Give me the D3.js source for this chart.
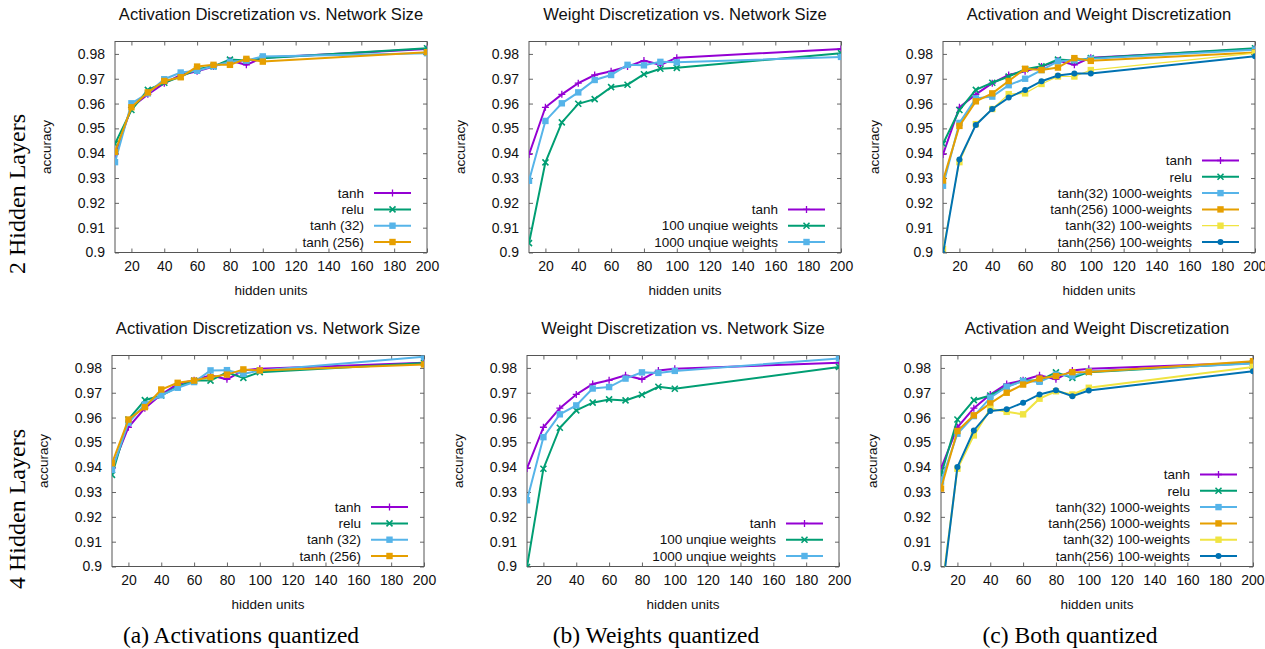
<!DOCTYPE html>
<html>
<head>
<meta charset="utf-8">
<script src="https://cdn.jsdelivr.net/npm/d3@7"></script>
<style>
  body { margin: 0; background: #fff; }
  svg { display: block; }
  .tick text { font-family: 'Liberation Sans', Arial, sans-serif; }
</style>
</head>
<body>
<div id="chart"></div>
<script>
// ---- data ---------------------------------------------------------------
const hidden = [10, 20, 30, 40, 50, 60, 70, 80, 90, 100, 200];
const xTicks = [20, 40, 60, 80, 100, 120, 140, 160, 180, 200];
const yTicks = [0.9, 0.91, 0.92, 0.93, 0.94, 0.95, 0.96, 0.97, 0.98];

// 2 hidden layers
const tanh2        = [0.9395, 0.9585, 0.9637, 0.9682, 0.9715, 0.9730, 0.9749, 0.9773, 0.9756, 0.9785, 0.9820];
const relu2        = [0.9438, 0.9574, 0.9655, 0.9684, 0.9709, 0.9738, 0.9750, 0.9777, 0.9773, 0.9783, 0.9823];
const tanh32_2     = [0.9364, 0.9601, 0.9641, 0.9698, 0.9725, 0.9732, 0.9750, 0.9768, 0.9773, 0.9790, 0.9803];
const tanh256_2    = [0.9405, 0.9585, 0.9645, 0.9691, 0.9706, 0.9749, 0.9756, 0.9756, 0.9780, 0.9769, 0.9807];
const w100_2       = [0.9038, 0.9363, 0.9524, 0.9599, 0.9618, 0.9666, 0.9676, 0.9718, 0.9740, 0.9744, 0.9803];
const w1000_2      = [0.9289, 0.9530, 0.9601, 0.9645, 0.9695, 0.9715, 0.9756, 0.9754, 0.9768, 0.9766, 0.9788];
const t32w1000_2   = [0.9269, 0.9522, 0.9621, 0.9628, 0.9674, 0.9700, 0.9735, 0.9770, 0.9775, 0.9780, 0.9817];
const t256w1000_2  = [0.9290, 0.9510, 0.9609, 0.9641, 0.9691, 0.9740, 0.9735, 0.9745, 0.9783, 0.9772, 0.9806];
const t32w100_2    = [0.9014, 0.9364, 0.9517, 0.9578, 0.9638, 0.9641, 0.9679, 0.9709, 0.9709, 0.9735, 0.9803];
const t256w100_2   = [0.8995, 0.9375, 0.9514, 0.9578, 0.9624, 0.9655, 0.9690, 0.9713, 0.9721, 0.9721, 0.9791];

// 4 hidden layers
const tanh4        = [0.9395, 0.9561, 0.9638, 0.9693, 0.9735, 0.9750, 0.9770, 0.9754, 0.9790, 0.9797, 0.9821];
const relu4        = [0.9369, 0.9592, 0.9670, 0.9689, 0.9724, 0.9749, 0.9749, 0.9782, 0.9760, 0.9783, 0.9820];
const tanh32_4     = [0.9389, 0.9579, 0.9653, 0.9690, 0.9720, 0.9743, 0.9790, 0.9791, 0.9776, 0.9790, 0.9845];
const tanh256_4    = [0.9416, 0.9592, 0.9642, 0.9713, 0.9740, 0.9749, 0.9763, 0.9773, 0.9794, 0.9790, 0.9814];
const w100_4       = [0.8998, 0.9394, 0.9559, 0.9629, 0.9660, 0.9673, 0.9669, 0.9692, 0.9724, 0.9716, 0.9804];
const w1000_4      = [0.9267, 0.9521, 0.9613, 0.9649, 0.9717, 0.9723, 0.9757, 0.9782, 0.9780, 0.9788, 0.9838];
const t32w1000_4   = [0.9342, 0.9535, 0.9606, 0.9680, 0.9724, 0.9747, 0.9744, 0.9773, 0.9767, 0.9787, 0.9818];
const t256w1000_4  = [0.9314, 0.9546, 0.9609, 0.9657, 0.9700, 0.9733, 0.9757, 0.9767, 0.9783, 0.9784, 0.9827];
const t32w100_4    = [0.8880, 0.9394, 0.9528, 0.9635, 0.9623, 0.9613, 0.9676, 0.9706, 0.9693, 0.9720, 0.9804];
const t256w100_4   = [0.8860, 0.9401, 0.9548, 0.9626, 0.9633, 0.9660, 0.9693, 0.9710, 0.9686, 0.9709, 0.9787];

const titles = ['Activation Discretization vs. Network Size', 'Weight Discretization vs. Network Size', 'Activation and Weight Discretization'];
const rowLabels = ['2 Hidden Layers', '4 Hidden Layers'];
const captions = ['(a) Activations quantized', '(b) Weights quantized', '(c) Both quantized'];

// ---- styles ----------------------------------------------------------------
const C = { purple: '#9400d3', green: '#009e73', sky: '#56b4e9', orange: '#e69f00', yellow: '#f0e442', blue: '#0072b2' };

const panelSeries = (t, r, t32, t256, w100, w1000, a1000, b1000, a100, b100, thinYellow) => [
  [
    { name: 'tanh', vals: t, color: C.purple, mark: 'plus' },
    { name: 'relu', vals: r, color: C.green, mark: 'cross' },
    { name: 'tanh (32)', vals: t32, color: C.sky, mark: 'square' },
    { name: 'tanh (256)', vals: t256, color: C.orange, mark: 'square' }
  ],
  [
    { name: 'tanh', vals: t, color: C.purple, mark: 'plus' },
    { name: '100 unqiue weights', vals: w100, color: C.green, mark: 'cross' },
    { name: '1000 unqiue weights', vals: w1000, color: C.sky, mark: 'square' }
  ],
  [
    { name: 'tanh', vals: t, color: C.purple, mark: 'plus' },
    { name: 'relu', vals: r, color: C.green, mark: 'cross' },
    { name: 'tanh(32) 1000-weights', vals: a1000, color: C.sky, mark: 'square' },
    { name: 'tanh(256) 1000-weights', vals: b1000, color: C.orange, mark: 'square' },
    { name: 'tanh(32) 100-weights', vals: a100, color: C.yellow, mark: 'square', width: thinYellow ? 1.2 : 2 },
    { name: 'tanh(256) 100-weights', vals: b100, color: C.blue, mark: 'circle' }
  ]
];

const rows = [
  { top: 41.5, lefts: [115, 529, 943], label: rowLabels[0], labelY: 194,
    series: panelSeries(tanh2, relu2, tanh32_2, tanh256_2, w100_2, w1000_2, t32w1000_2, t256w1000_2, t32w100_2, t256w100_2, true) },
  { top: 355.5, lefts: [112, 527, 941], label: rowLabels[1], labelY: 509,
    series: panelSeries(tanh4, relu4, tanh32_4, tanh256_4, w100_4, w1000_4, t32w1000_4, t256w1000_4, t32w100_4, t256w100_4, false) }
];

const width = 1265, height = 649;
const pw = 312, ph = 211;
const sans = "'Liberation Sans', Arial, sans-serif";
const serif = "'Liberation Serif', 'Times New Roman', serif";

const svg = d3.select('#chart').append('svg')
  .attr('width', width)
  .attr('height', height);

const marker = (g, type, color, x, y) => {
  if (type === 'plus') {
    g.append('path').attr('d', `M${x - 3.5},${y}h7M${x},${y - 3.5}v7`)
      .attr('stroke', color).attr('stroke-width', 1.3).attr('fill', 'none');
  } else if (type === 'cross') {
    g.append('path').attr('d', `M${x - 3},${y - 3}l6,6M${x - 3},${y + 3}l6,-6`)
      .attr('stroke', color).attr('stroke-width', 1.6).attr('fill', 'none');
  } else if (type === 'square') {
    g.append('rect').attr('x', x - 3.2).attr('y', y - 3.2).attr('width', 6.4).attr('height', 6.4)
      .attr('fill', color);
  } else {
    g.append('circle').attr('cx', x).attr('cy', y).attr('r', 3).attr('fill', color);
  }
};

rows.forEach((row, ri) => {
  const top = row.top, bottom = row.top + ph;
  // 行ラベル
  svg.append('text')
    .attr('transform', `translate(25,${row.labelY}) rotate(-90)`)
    .attr('text-anchor', 'middle')
    .attr('font-family', serif)
    .attr('font-size', '24px')
    .text(row.label);

  row.lefts.forEach((left, ci) => {
    const right = left + pw;
    const x = d3.scaleLinear().domain([10, 200]).range([left, right]);
    const y = d3.scaleLinear().domain([0.9, 0.985]).range([bottom, top]);
    const g = svg.append('g');
    const clipId = `clip-${ri}-${ci}`;
    svg.append('defs').append('clipPath').attr('id', clipId)
      .append('rect').attr('x', left).attr('y', top).attr('width', pw).attr('height', ph);

    // タイトル
    g.append('text')
      .attr('x', (left + right) / 2).attr('y', top - 22)
      .attr('text-anchor', 'middle')
      .attr('font-family', sans).attr('font-size', '16.6px')
      .attr('fill', '#111')
      .text(titles[ci]);

    // 軸
    const fmt = d => String(+d.toFixed(2));
    const gx = g.append('g').attr('transform', `translate(0,${bottom})`)
      .call(d3.axisBottom(x).tickValues(xTicks).tickSizeInner(-4).tickSizeOuter(0).tickPadding(9));
    const gxt = g.append('g').attr('transform', `translate(0,${top})`)
      .call(d3.axisTop(x).tickValues(xTicks).tickSizeInner(-4).tickSizeOuter(0).tickFormat(''));
    const gy = g.append('g').attr('transform', `translate(${left},0)`)
      .call(d3.axisLeft(y).tickValues(yTicks).tickSizeInner(-4).tickSizeOuter(0).tickPadding(10).tickFormat(fmt));
    const gyr = g.append('g').attr('transform', `translate(${right},0)`)
      .call(d3.axisRight(y).tickValues(yTicks).tickSizeInner(-4).tickSizeOuter(0).tickFormat(''));
    [gx, gxt, gy, gyr].forEach(a => {
      a.select('.domain').remove();
      a.selectAll('.tick line').attr('stroke', '#666');
      a.selectAll('.tick text').attr('font-size', '14px').attr('fill', '#111');
    });
    // 右端の列は最後のラベルが画面からはみ出さないように
    if (ci === 2) {
      gx.selectAll('.tick text').filter(d => d === 200).attr('text-anchor', 'end').attr('dx', '11');
    }
    g.append('rect')
      .attr('x', left).attr('y', top).attr('width', pw).attr('height', ph)
      .attr('fill', 'none').attr('stroke', '#555').attr('stroke-width', 1);

    // 軸ラベル
    g.append('text')
      .attr('x', (left + right) / 2).attr('y', bottom + 42.5)
      .attr('text-anchor', 'middle')
      .attr('font-family', sans).attr('font-size', '13.5px').attr('fill', '#111')
      .text('hidden units');
    g.append('text')
      .attr('transform', `translate(${left - 64},${(top + bottom) / 2}) rotate(-90)`)
      .attr('text-anchor', 'middle')
      .attr('font-family', sans).attr('font-size', '13.5px').attr('fill', '#111')
      .text('accuracy');

    // 系列
    const series = row.series[ci];
    const plot = g.append('g').attr('clip-path', `url(#${clipId})`);
    series.forEach(s => {
      const pts = hidden.map((h, i) => [h, s.vals[i]]);
      plot.append('path')
        .datum(pts)
        .attr('d', d3.line().x(d => x(d[0])).y(d => y(d[1])))
        .attr('fill', 'none')
        .attr('stroke', s.color)
        .attr('stroke-width', s.width || 2);
      pts.forEach(p => marker(plot, s.mark, s.color, x(p[0]), y(p[1])));
    });

    // 凡例
    const lx2 = right - 16, lx1 = lx2 - 37;
    series.forEach((s, i) => {
      const ly = bottom - 10.5 - (series.length - 1 - i) * 16.3;
      g.append('line')
        .attr('x1', lx1).attr('x2', lx2).attr('y1', ly).attr('y2', ly)
        .attr('stroke', s.color).attr('stroke-width', s.width || 2);
      marker(g, s.mark, s.color, (lx1 + lx2) / 2, ly);
      g.append('text')
        .attr('x', lx1 - 10).attr('y', ly).attr('dy', '0.35em')
        .attr('text-anchor', 'end')
        .attr('font-family', sans).attr('font-size', '13.5px').attr('fill', '#111')
        .text(s.name);
    });

    // キャプション
    if (ri === 1) {
      svg.append('text')
        .attr('x', (left + right) / 2 - 27).attr('y', 643)
        .attr('text-anchor', 'middle')
        .attr('font-family', serif).attr('font-size', '23.5px')
        .text(captions[ci]);
    }
  });
});
</script>
</body>
</html>
